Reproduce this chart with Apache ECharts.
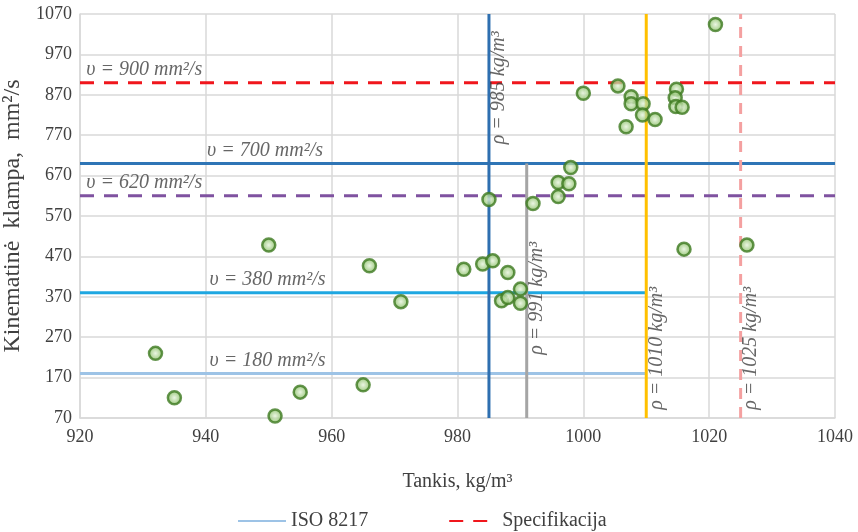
<!DOCTYPE html>
<html><head><meta charset="utf-8">
<script src="https://cdn.jsdelivr.net/npm/echarts@6/dist/echarts.min.js"></script>
<style>html,body{margin:0;background:#fff}#c{width:858px;height:532px}</style>
</head><body><div id="c"></div>
<script>
// Measured samples: density (kg/m³) and kinematic viscosity (mm²/s)
const density = [932, 935, 950, 951, 955, 965, 966, 971, 981, 984, 985.6, 988, 990, 987, 988, 990,
  985, 992, 996, 996, 997.7, 998, 1000, 1005.5, 1007.6, 1007.6, 1009.5, 1009.4, 1006.8, 1011.4,
  1014.8, 1014.6, 1014.7, 1015.7, 1021, 1016, 1026];
const viscosity = [230, 120, 498, 75, 134, 152, 447, 358, 438, 451, 459, 430, 389, 360, 368, 354,
  611, 601, 618, 653, 650, 690, 874, 892, 865, 848, 848, 820, 791, 809,
  884, 863, 841, 839, 1044, 488, 498];

// Viscosity limits (horizontal lines) and where each one ends on the density axis
const viscLimits = [900, 700, 620, 380, 180];
const viscLimitEnds = [1040, 1040, 1040, 1010, 1010];
// Density limits (vertical lines) and the viscosity each one reaches up to
const densLimits = [985, 991, 1010, 1025];
const densLimitTops = [1070, 700, 1070, 1070];

const xMin = 920, xMax = 1040, yMin = 70, yMax = 1070;
const FONT = 'Liberation Serif';
const TXT = '#404040';

const viscStyles = [
  { name: 'Specifikacija', color: '#f0161c', type: [14, 10] },
  { name: 'v700', color: '#2e75b6', type: 'solid' },
  { name: 'v620', color: '#7f52a0', type: [14, 10] },
  { name: 'v380', color: '#1fa7e1', type: 'solid' },
  { name: 'ISO 8217', color: '#9dc3e6', type: 'solid' }
];
const densStyles = [
  { name: 'd985', color: '#2e6fb0', type: 'solid' },
  { name: 'd991', color: '#a5a5a5', type: 'solid' },
  { name: 'd1010', color: '#ffc000', type: 'solid' },
  { name: 'd1025', color: '#f4a0a0', type: [11, 8] }
];

const series = [];
viscLimits.forEach((v, i) => {
  const s = viscStyles[i];
  series.push({
    name: s.name, type: 'line', symbol: 'none', silent: true, z: 2,
    lineStyle: { color: s.color, width: 3, type: s.type },
    itemStyle: { color: s.color },
    data: [[xMin, v], [viscLimitEnds[i], v]]
  });
});
densLimits.forEach((d, i) => {
  const s = densStyles[i];
  series.push({
    name: s.name, type: 'line', symbol: 'none', silent: true, z: 3,
    lineStyle: { color: s.color, width: 3, type: s.type },
    data: [[d, yMin], [d, densLimitTops[i]]]
  });
});

// Text placed next to the limit lines
const hLabelX = [921.0, 940.2, 921.0, 940.6, 940.6];
const vLabelY = [735, 214, 78, 78];
const labelFont = { fontFamily: FONT, fontStyle: 'italic', fontSize: 20, color: TXT };
const labelData = [];
viscLimits.forEach((v, i) => {
  labelData.push({
    value: [hLabelX[i], v],
    label: Object.assign({
      show: true, formatter: 'υ = ' + v + ' mm²/s', position: 'inside',
      align: 'left', verticalAlign: 'bottom', offset: [0, -3]
    }, labelFont)
  });
});
densLimits.forEach((d, i) => {
  labelData.push({
    value: [d, vLabelY[i]],
    label: Object.assign({
      show: true, formatter: 'ρ = ' + d + ' kg/m³', position: 'inside', rotate: 90,
      align: 'left', verticalAlign: 'top', offset: [5, 0]
    }, labelFont)
  });
});
series.push({
  name: 'labels', type: 'scatter', symbolSize: 1, silent: true, z: 4,
  itemStyle: { color: 'rgba(0,0,0,0)' },
  data: labelData
});

series.push({
  name: 'Mėginiai', type: 'scatter', z: 10, symbolSize: 13,
  itemStyle: {
    color: {
      type: 'radial', x: 0.5, y: 0.5, r: 0.5,
      colorStops: [{ offset: 0, color: '#e6f3dc' }, { offset: 0.55, color: '#a9d18e' }, { offset: 1, color: '#6fab47' }]
    },
    borderColor: '#3f7a22', borderWidth: 2.5
  },
  data: density.map((d, i) => [d, viscosity[i]])
});

const tickLabel = { fontFamily: FONT, fontSize: 18, color: TXT, formatter: v => String(v) };

const chart = echarts.init(document.getElementById('c'), null, { renderer: 'canvas' });
chart.setOption({
  animation: false,
  backgroundColor: '#fff',
  textStyle: { fontFamily: FONT },
  grid: { left: 80, right: 23, top: 14, bottom: 114, containLabel: false, outerBoundsMode: 'none' },
  legend: {
    data: ['ISO 8217', 'Specifikacija'],
    left: 232, top: 506, itemWidth: 48, itemHeight: 14, itemGap: 80,
    itemStyle: { opacity: 0 },
    textStyle: { fontFamily: FONT, fontSize: 20, color: TXT }
  },
  xAxis: {
    type: 'value', min: xMin, max: xMax, interval: 20,
    name: 'Tankis, kg/m³', nameLocation: 'middle', nameGap: 54,
    nameTextStyle: { fontFamily: FONT, fontSize: 20, color: TXT },
    axisLine: { show: true, lineStyle: { color: '#d9d9d9', width: 1.5 } },
    axisTick: { show: false },
    axisLabel: Object.assign({ margin: 10 }, tickLabel),
    splitLine: { show: true, lineStyle: { color: '#d9d9d9', width: 1.5 } }
  },
  yAxis: {
    type: 'value', min: yMin, max: yMax, interval: 100,
    name: 'Kinematinė  klampa,  mm²/s', nameLocation: 'middle', nameGap: 52,
    nameTextStyle: { fontFamily: FONT, fontSize: 24, color: TXT },
    axisLine: { show: true, lineStyle: { color: '#d9d9d9', width: 1.5 } },
    axisTick: { show: false },
    axisLabel: Object.assign({ margin: 8 }, tickLabel),
    splitLine: { show: true, lineStyle: { color: '#d9d9d9', width: 1.5 } }
  },
  series: series
});
</script>
</body></html>
